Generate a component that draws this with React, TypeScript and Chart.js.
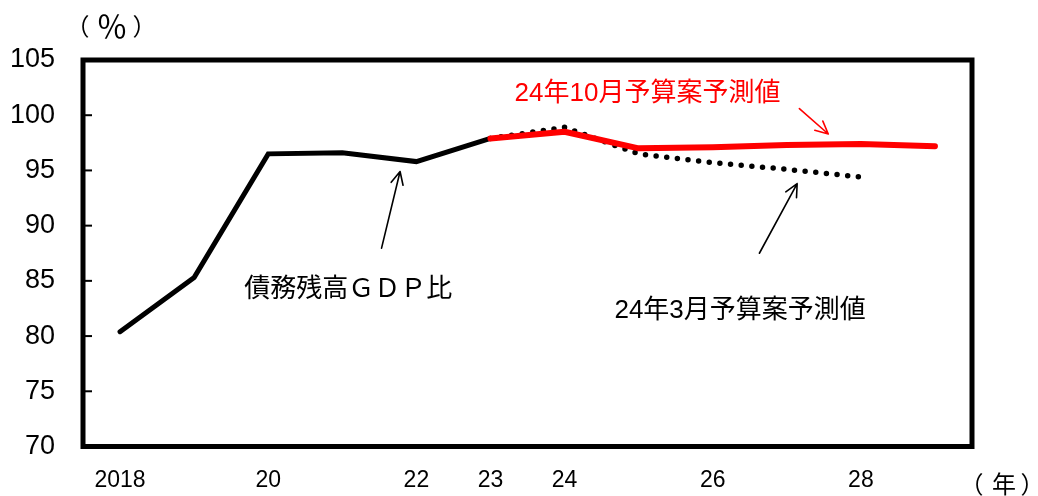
import React, { useEffect, useRef } from "react";
import { Chart, registerables } from "chart.js";

Chart.register(...registerables);

const years = ["2018", "2019", "2020", "2021", "2022", "2023", "2024", "2025", "2026", "2027", "2028", "2029"];
const tickLabels = ["2018", "", "20", "", "22", "23", "24", "", "26", "", "28", ""];
const debtRatio = [80.4, 85.3, 96.5, 96.6, 95.8, 97.9, null, null, null, null, null, null];
const octForecast = [null, null, null, null, null, 97.9, 98.5, 97.0, 97.1, 97.3, 97.4, 97.2];
const marForecast = [null, null, null, null, null, 97.9, 98.9, 96.5, 95.7, 95.1, 94.4, null];
const yTicks = [70, 75, 80, 85, 90, 95, 100, 105];

const labelDebt = "債務残高ＧＤＰ比";
const labelOct = "24年10月予算案予測値";
const labelMar = "24年3月予算案予測値";
const unitY = ["（", "％", "）"];
const unitX = ["（", "年", "）"];

const FONT = "'Liberation Sans', Arial, 'Noto Sans CJK JP', sans-serif";
const CJK = "'Noto Sans CJK JP', sans-serif";

function drawArrow(ctx: CanvasRenderingContext2D, x1: number, y1: number, x2: number, y2: number, color: string) {
  const ang = Math.atan2(y2 - y1, x2 - x1);
  const len = 14;
  const spread = 0.45;
  ctx.save();
  ctx.strokeStyle = color;
  ctx.lineWidth = 1.6;
  ctx.lineCap = "round";
  ctx.beginPath();
  ctx.moveTo(x1, y1);
  ctx.lineTo(x2, y2);
  ctx.moveTo(x2, y2);
  ctx.lineTo(x2 - len * Math.cos(ang - spread), y2 - len * Math.sin(ang - spread));
  ctx.moveTo(x2, y2);
  ctx.lineTo(x2 - len * Math.cos(ang + spread), y2 - len * Math.sin(ang + spread));
  ctx.stroke();
  ctx.restore();
}

function drawInkCentered(ctx: CanvasRenderingContext2D, ch: string, cx: number, cy: number) {
  ctx.textAlign = "left";
  ctx.textBaseline = "middle";
  const m = ctx.measureText(ch);
  const x = cx - (m.actualBoundingBoxRight - m.actualBoundingBoxLeft) / 2;
  ctx.fillText(ch, x, cy);
}

const decorPlugin = {
  id: "decor",
  afterDatasetsDraw(chart: any) {
    const { ctx, chartArea, scales } = chart;
    const xs = scales.x;
    const ys = scales.y;
    const px = (v: number) => xs.getPixelForDecimal((v + 0.5) / years.length);
    const py = (v: number) => ys.getPixelForValue(v);
    ctx.save();
    // inner ticks
    ctx.strokeStyle = "#000";
    ctx.lineWidth = 2;
    yTicks.slice(1, -1).forEach((t) => {
      const y = py(t);
      ctx.beginPath();
      ctx.moveTo(chartArea.left, y);
      ctx.lineTo(chartArea.left + 9, y);
      ctx.stroke();
    });
    // frame
    ctx.lineWidth = 5;
    ctx.lineJoin = "miter";
    ctx.strokeRect(chartArea.left, chartArea.top, chartArea.right - chartArea.left, chartArea.bottom - chartArea.top);

    // texts
    ctx.textAlign = "center";
    ctx.textBaseline = "middle";
    ctx.fillStyle = "#000";
    ctx.font = `26px ${FONT}`;
    ctx.fillText(labelDebt, px(3.08), py(84.2));
    ctx.fillText(labelMar, px(8.37), py(82.3));
    ctx.fillStyle = "#ff0000";
    ctx.fillText(labelOct, px(7.12), py(101.95));
    ctx.fillStyle = "#000";
    const yOff = [2, 29, 54];
    unitY.forEach((ch, i) => {
      ctx.font = i === 1 ? `31px ${CJK}` : `24px ${CJK}`;
      drawInkCentered(ctx, ch, chartArea.left + yOff[i], chartArea.top - 34);
    });
    ctx.font = `24px ${CJK}`;
    const xOff = [7, 32, 53];
    unitX.forEach((ch, i) => drawInkCentered(ctx, ch, chartArea.right + xOff[i], chartArea.bottom + 37.5));

    // arrows
    drawArrow(ctx, px(3.53), py(87.96), px(3.78), py(94.9), "#000");
    drawArrow(ctx, px(8.63), py(87.5), px(9.14), py(93.8), "#000");
    drawArrow(ctx, px(9.17), py(100.6), px(9.56), py(98.3), "#ff0000");
    ctx.restore();
  },
};

export default function App() {
  const ref = useRef<HTMLCanvasElement>(null);
  useEffect(() => {
    document.body.style.margin = "0";
    const chart = new Chart(ref.current!, {
      type: "line",
      data: {
        labels: years,
        datasets: [
          {
            label: labelOct,
            data: octForecast,
            borderColor: "#ff0000",
            borderWidth: 6,
            pointRadius: 0,
            borderCapStyle: "round",
            borderJoinStyle: "round",
            tension: 0,
          },
          {
            label: labelDebt,
            data: debtRatio,
            borderColor: "#000",
            borderWidth: 5,
            pointRadius: 0,
            borderCapStyle: "round",
            borderJoinStyle: "miter",
            tension: 0,
          },
          {
            label: labelMar,
            data: marForecast,
            borderColor: "#000",
            borderWidth: 5.5,
            borderDash: [0, 10.7],
            borderCapStyle: "round",
            pointRadius: 0,
            tension: 0,
          },
        ],
      },
      options: {
        animation: false,
        responsive: false,
        devicePixelRatio: 1,
        layout: { padding: { top: 60, right: 66, left: 0, bottom: 0 } },
        plugins: { legend: { display: false }, tooltip: { enabled: false } },
        scales: {
          x: {
            type: "category",
            offset: true,
            grid: { display: false, drawTicks: false },
            border: { display: false },
            ticks: {
              autoSkip: false,
              maxRotation: 0,
              color: "#000",
              padding: 20,
              font: { size: 23, family: FONT },
              callback: (_v: any, i: number) => tickLabels[i],
            },
            afterFit: (s: any) => {
              s.height = 49.5;
            },
          },
          y: {
            min: 70,
            max: 105,
            grid: { display: false, drawTicks: false },
            border: { display: false },
            ticks: {
              stepSize: 5,
              color: "#000",
              padding: 28,
              font: { size: 27, family: FONT },
            },
            afterBuildTicks: (s: any) => {
              s.ticks = yTicks.map((v) => ({ value: v }));
            },
            afterFit: (s: any) => {
              s.width = 83;
            },
          },
        },
      },
      plugins: [decorPlugin],
    });
    return () => chart.destroy();
  }, []);
  return (
    <div style={{ width: 1038, height: 496 }}>
      <canvas ref={ref} width={1038} height={496} />
    </div>
  );
}
